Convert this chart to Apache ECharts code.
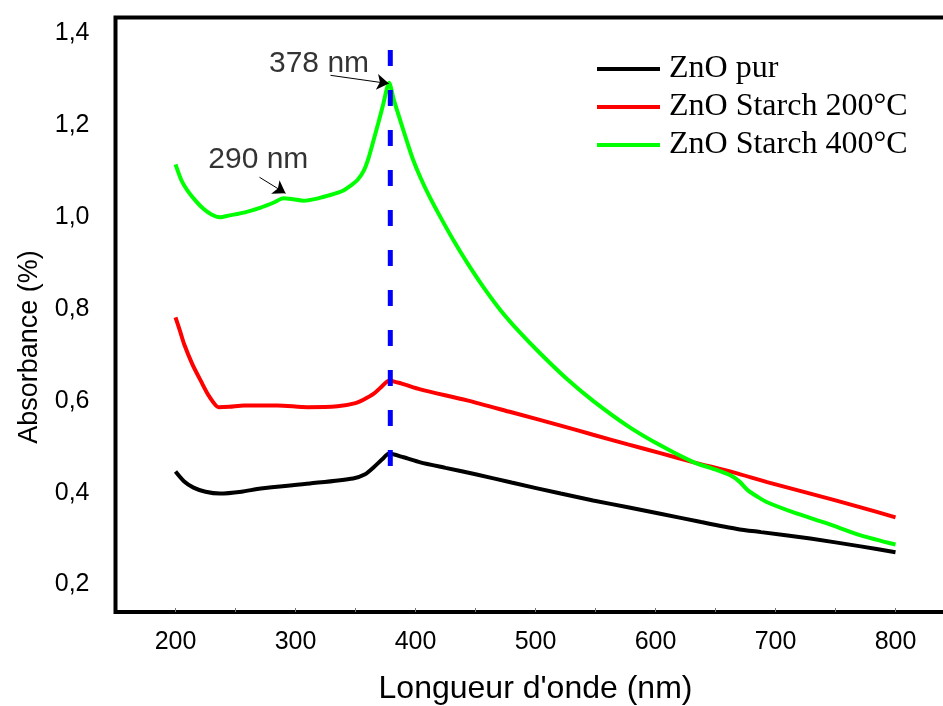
<!DOCTYPE html>
<html>
<head>
<meta charset="utf-8">
<title>Absorbance ZnO</title>
<script src="https://cdn.jsdelivr.net/npm/echarts@6/dist/echarts.min.js"></script>
<style>
  html, body { margin: 0; padding: 0; background: #fff; }
  #chart { width: 943px; height: 706px; }
</style>
</head>
<body>
<div id="chart"></div>
<script>
// valeurs (longueur d'onde en nm, absorbance)
const wlPur = [200, 207, 215, 225, 237, 255, 271, 312, 348, 358, 365, 372, 378, 390, 404, 425, 450, 480, 521, 548, 577, 604, 638, 668, 688, 729, 771, 800];
const absPur = [0.446, 0.425, 0.411, 0.402, 0.398, 0.402, 0.409, 0.420, 0.431, 0.440, 0.455, 0.472, 0.485, 0.477, 0.466, 0.454, 0.440, 0.422, 0.398, 0.383, 0.368, 0.354, 0.336, 0.321, 0.314, 0.300, 0.283, 0.270];

const wl200 = [200, 204, 207, 214, 221, 228, 236, 245, 257, 285, 310, 335, 350, 357, 365, 371, 378, 388, 404, 443, 480, 521, 548, 577, 604, 632, 665, 693, 729, 771, 800];
const abs200 = [0.782, 0.750, 0.725, 0.680, 0.644, 0.610, 0.586, 0.587, 0.590, 0.590, 0.586, 0.588, 0.595, 0.603, 0.615, 0.629, 0.644, 0.638, 0.625, 0.601, 0.575, 0.546, 0.526, 0.505, 0.486, 0.466, 0.444, 0.423, 0.398, 0.368, 0.346];

const wl400 = [200, 205, 210, 217, 223, 230, 237, 245, 257, 271, 282, 290, 298, 307, 317, 327, 338, 346, 352, 357, 361, 365, 369, 373, 378, 382, 388, 393, 398, 404, 412, 421, 432, 443, 456, 471, 487, 504, 526, 548, 577, 604, 632, 648, 663, 670, 677, 685, 693, 715, 743, 771, 800];
const abs400 = [1.115, 1.080, 1.058, 1.035, 1.019, 1.006, 1.000, 1.004, 1.010, 1.021, 1.032, 1.041, 1.039, 1.036, 1.040, 1.047, 1.056, 1.069, 1.082, 1.102, 1.130, 1.167, 1.205, 1.245, 1.293, 1.255, 1.205, 1.164, 1.125, 1.087, 1.043, 0.999, 0.948, 0.901, 0.850, 0.797, 0.749, 0.703, 0.648, 0.600, 0.545, 0.503, 0.466, 0.452, 0.437, 0.424, 0.405, 0.391, 0.379, 0.357, 0.333, 0.307, 0.287];

const seriesNames = ['ZnO pur', 'ZnO Starch 200°C', 'ZnO Starch 400°C'];
const seriesColors = ['#000000', '#ff0000', '#00ff00'];

const xLabels = [200, 300, 400, 500, 600, 700, 800];
const xTicks = [200, 250, 300, 350, 400, 450, 500, 550, 600, 650, 700, 750, 800];
const yLabels = [0.2, 0.4, 0.6, 0.8, 1.0, 1.2, 1.4];

// pic à 378 nm : trait pointillé vertical
const peakLine = [[379, 0.458], [379, 1.39]];
// annotations : texte et flèches
const notes = [
  { value: [319.6, 1.335], name: '378 nm' },
  { value: [269, 1.125], name: '290 nm' }
];
const arrows = [
  [[329.2, 1.309], [377.8, 1.291]],
  [[270, 1.087], [291.7, 1.052]]
];

const zip = (xs, ys) => xs.map((x, i) => [x, ys[i]]);
const curves = [zip(wlPur, absPur), zip(wl200, abs200), zip(wl400, abs400)];

const chart = echarts.init(document.getElementById('chart'));

const option = {
  animation: false,
  backgroundColor: '#fff',
  grid: {
    left: 115.5,
    top: 17.5,
    width: 840,
    height: 594.5,
    show: true,
    borderColor: '#000',
    borderWidth: 4,
    containLabel: false,
    outerBoundsMode: 'none'
  },
  legend: {
    data: seriesNames,
    orient: 'vertical',
    left: 597,
    top: 53,
    padding: 0,
    icon: 'rect',
    itemWidth: 63,
    itemHeight: 4,
    itemGap: 6,
    textStyle: {
      fontFamily: 'Liberation Serif',
      fontSize: 32,
      lineHeight: 32,
      color: '#000',
      padding: [0, 0, 0, 4]
    }
  },
  xAxis: {
    type: 'value',
    min: 150,
    max: 850,
    name: "Longueur d'onde (nm)",
    nameLocation: 'middle',
    nameGap: 61,
    nameTextStyle: { fontFamily: 'Liberation Sans', fontSize: 32, color: '#000' },
    axisLine: { show: false },
    splitLine: { show: false },
    axisTick: {
      show: true,
      inside: true,
      length: 4,
      customValues: xTicks,
      lineStyle: { color: '#777', width: 1 }
    },
    axisLabel: {
      customValues: xLabels,
      margin: 18,
      fontFamily: 'Liberation Sans',
      fontSize: 25,
      color: '#000',
      formatter: v => String(v)
    }
  },
  yAxis: {
    type: 'value',
    min: 0.14,
    max: 1.435,
    axisLine: { show: false },
    axisTick: { show: false },
    splitLine: { show: false },
    axisLabel: {
      customValues: yLabels,
      margin: 26,
      fontFamily: 'Liberation Sans',
      fontSize: 25,
      color: '#000',
      formatter: v => v.toFixed(1).replace('.', ',')
    }
  },
  graphic: [{
    type: 'text',
    x: 30,
    y: 347,
    rotation: Math.PI / 2,
    style: {
      text: 'Absorbance (%)',
      fontFamily: 'Liberation Sans',
      fontSize: 27,
      fill: '#000',
      align: 'center',
      verticalAlign: 'middle'
    }
  }],
  series: [
    ...curves.map((d, i) => ({
      name: seriesNames[i],
      type: 'line',
      data: d,
      smooth: 0.25,
      showSymbol: false,
      color: seriesColors[i],
      lineStyle: { color: seriesColors[i], width: 4 },
      emphasis: { disabled: true },
      z: 2 + i
    })),
    {
      name: 'pic',
      type: 'line',
      data: peakLine,
      showSymbol: false,
      silent: true,
      lineStyle: { color: '#0000ff', width: 5, type: [16, 24] },
      z: 6,
      markLine: {
        silent: true,
        symbol: ['none', 'arrow'],
        symbolSize: 12,
        label: { show: false },
        lineStyle: { color: '#000', width: 1, type: 'solid' },
        emphasis: { disabled: true },
        data: arrows.map(a => [{ coord: a[0] }, { coord: a[1] }])
      }
    },
    {
      name: 'notes',
      type: 'scatter',
      data: notes,
      symbolSize: 1,
      silent: true,
      itemStyle: { color: 'transparent' },
      label: {
        show: true,
        position: 'inside',
        formatter: '{b}',
        fontFamily: 'Liberation Sans',
        fontSize: 30,
        color: '#000',
        textBorderWidth: 0
      },
      z: 7
    }
  ]
};

chart.setOption(option);
</script>
</body>
</html>
